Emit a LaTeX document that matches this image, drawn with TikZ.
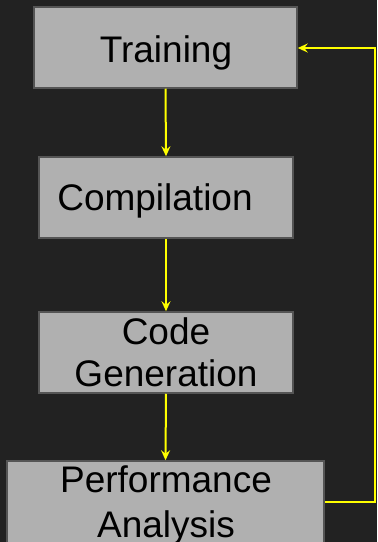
\documentclass[tikz,border=0pt]{standalone}
\usepackage{fontspec}
\setmainfont{Liberation Sans}
\usetikzlibrary{arrows.meta}
\definecolor{bg}{HTML}{222222}
\definecolor{boxfill}{HTML}{B0B0B0}
\definecolor{boxline}{HTML}{555555}
\definecolor{flow}{HTML}{FFFF00}
\tikzset{
  stagebox/.style={draw=boxline, line width=1.5bp, fill=boxfill, inner sep=0pt},
  lbl/.style={inner sep=0pt, anchor=base, text=black,
    font=\fontsize{37bp}{43bp}\selectfont},
  flowline/.style={draw=flow, line width=2bp,
    -{Stealth[length=10bp, width=9bp, inset=3.5bp]}}
}
\begin{document}
\begin{tikzpicture}[x=1bp, y=-1bp]
  \path[use as bounding box, clip] (0,0) rectangle (377,542);
  \fill[bg] (0,0) rectangle (377,542);

  % stages
  \node[stagebox, minimum width=263bp, minimum height=81bp] (train) at (165.5,47.5) {};
  \node[stagebox, minimum width=254bp, minimum height=81bp] (comp) at (166,197.5) {};
  \node[stagebox, minimum width=254bp, minimum height=81bp] (code) at (166,352.5) {};
  \node[stagebox, minimum width=317bp, minimum height=100bp] (perf) at (165.5,511) {};

  % stage labels
  \node[lbl] (trainT) at (166,63) {Training};
  \node[lbl] (compT) at (155,211) {Compilation};
  \node[lbl] (codeT1) at (166,344) {Code};
  \node[lbl] (codeT2) at (166,386) {Generation};
  \node[lbl] (perfT1) at (166,492) {Performance};
  \node[lbl] (perfT2) at (166,537) {Analysis};

  % flow between stages
  \draw[flowline] (train.south) -- (comp.north);
  \draw[flowline] (comp.south) -- (code.north);
  \draw[flowline] (code.south) -- (perf.north);

  % feedback loop back to training
  \coordinate (loopB) at (375.3,502);
  \coordinate (loopT) at (375.3,48);
  \draw[flowline] (perf.east |- loopB) -- (loopB) -- (loopT) -- (train.east |- loopT);
\end{tikzpicture}
\end{document}
